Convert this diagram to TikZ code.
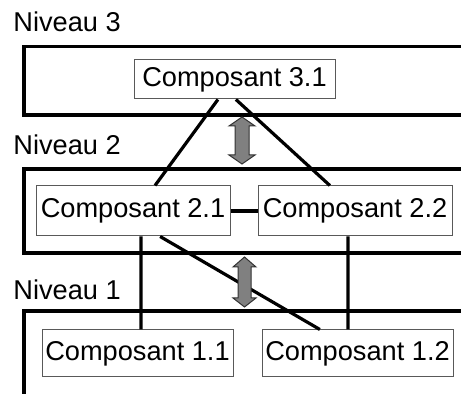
\documentclass[tikz,border=0pt]{standalone}
\usepackage{fontspec}
\setmainfont{Liberation Sans}
\usetikzlibrary{calc}
\tikzset{
  comp/.style={draw=black!65, line width=0.5pt, fill=white, inner sep=0pt, font=\fontsize{13.6}{15}\selectfont},
  lvl/.style={draw=black, line width=1.6pt},
  link/.style={draw=black, line width=1.6pt},
  lbl/.style={anchor=base west, inner sep=0pt, font=\fontsize{13.6}{15}\selectfont},
  darrow/.style={fill=black!50, draw=black!80, line width=0.5pt, line join=miter},
}
\begin{document}
\begin{tikzpicture}[x=0.5pt, y=-0.5pt]
\useasboundingbox (0,0) rectangle (461,394);
\clip (0,0) rectangle (461,394);
% level frames
\draw[lvl] (24,46.5) rectangle (480,115);
\draw[lvl] (24,169) rectangle (480,253);
\draw[lvl] (24,311) rectangle (480,420);
% labels
\node[lbl] (n3) at (13,32) {Niveau 3};
\node[lbl] (n2) at (13,155) {Niveau 2};
\node[lbl] (n1) at (13,300) {Niveau 1};
% components
\node[comp, minimum width=100.5pt, minimum height=19.5pt] (c31) at (234.5,79.5) {Composant 3.1};
\node[comp, minimum width=97pt, minimum height=25pt] (c21) at (133,211) {Composant 2.1};
\node[comp, minimum width=97pt, minimum height=25pt] (c22) at (355,211) {Composant 2.2};
\node[comp, minimum width=95.5pt, minimum height=23.5pt] (c11) at (137.5,353.5) {Composant 1.1};
\node[comp, minimum width=95.5pt, minimum height=23.5pt] (c12) at (357.5,353.5) {Composant 1.2};
% connectors
\draw[link] ($(c31.south west)!0.418!(c31.south east)$) -- ($(c21.north west)!0.613!(c21.north east)$);
\draw[link] ($(c31.south west)!0.507!(c31.south east)$) -- ($(c22.north west)!0.371!(c22.north east)$);
\draw[link] (c21.east) -- (c22.west);
\draw[link] ($(c21.south west)!0.541!(c21.south east)$) -- ($(c11.north west)!0.518!(c11.north east)$);
\draw[link] ($(c21.south west)!0.639!(c21.south east)$) -- ($(c12.north west)!0.304!(c12.north east)$);
\draw[link] ($(c22.south west)!0.464!(c22.south east)$) -- ($(c12.north west)!0.450!(c12.north east)$);
% double arrows
\draw[darrow] (242,117) -- (255,126) -- (249,126) -- (249,155) -- (255,155) -- (242,164)
  -- (229,155) -- (235,155) -- (235,126) -- (229,126) -- cycle;
\draw[darrow] (244.5,257) -- (256,267) -- (251,267) -- (251,298) -- (256,298) -- (244.5,307)
  -- (233,298) -- (238,298) -- (238,267) -- (233,267) -- cycle;
\end{tikzpicture}
\end{document}
